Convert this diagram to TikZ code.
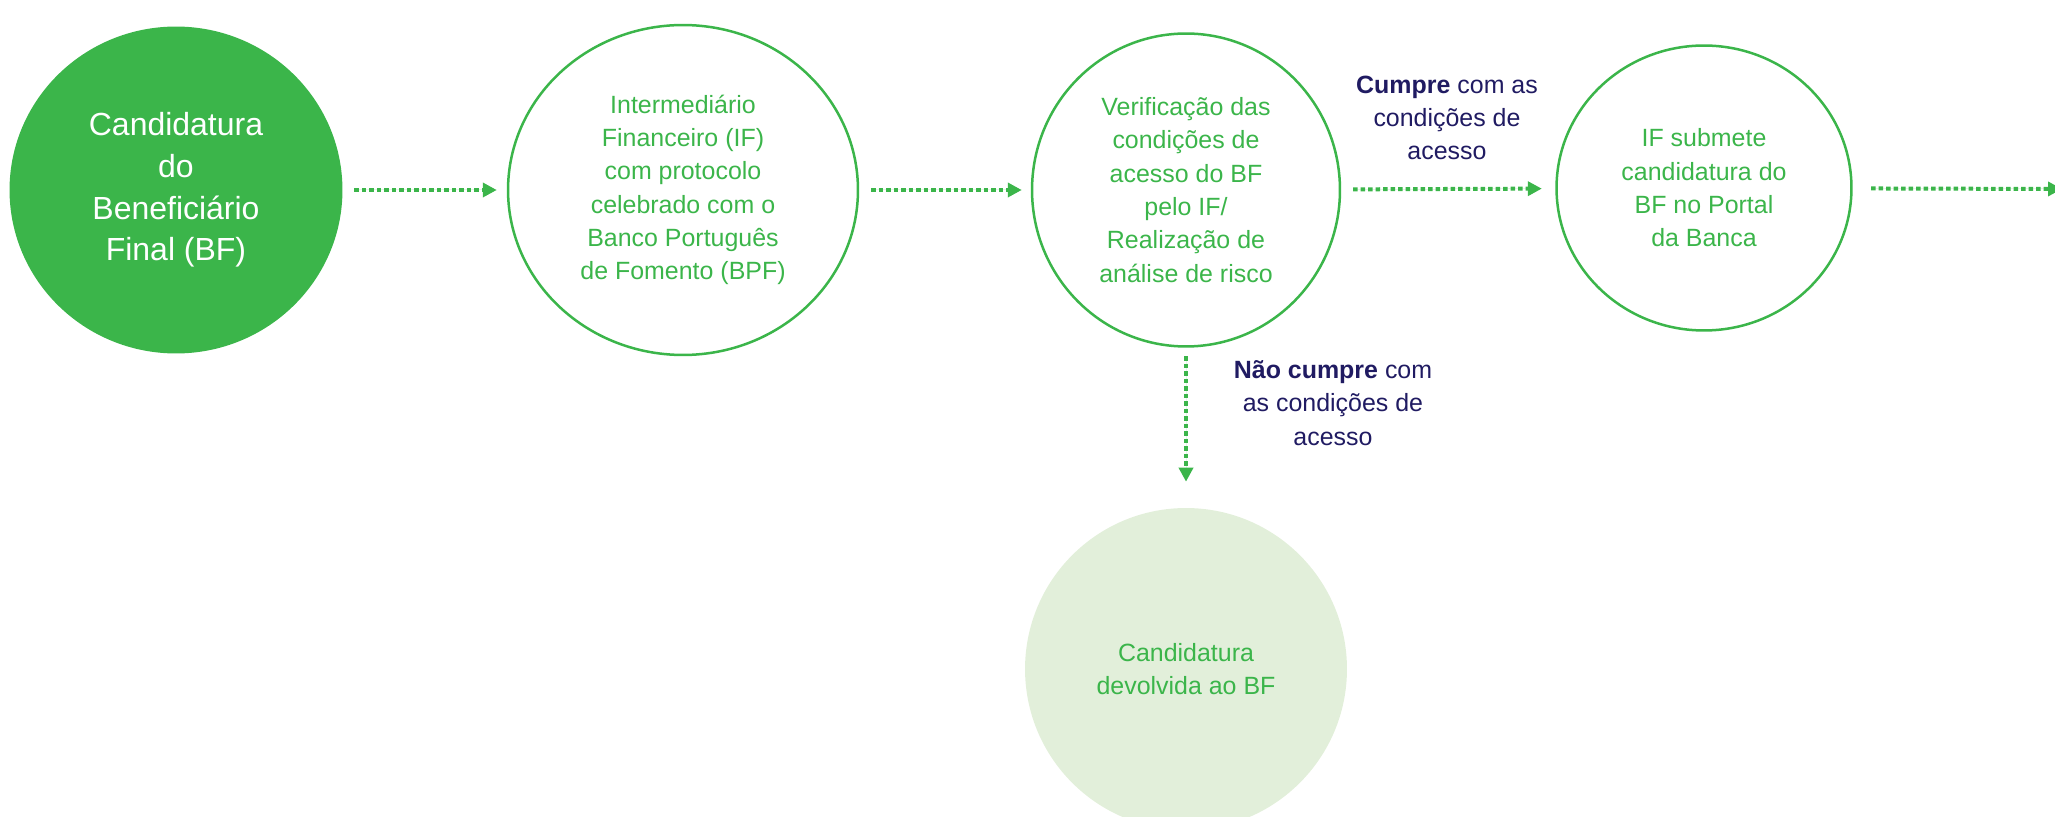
\documentclass[tikz,border=0pt]{standalone}
\usepackage{fontspec}
\setmainfont{Liberation Sans}
\usetikzlibrary{arrows.meta,shapes.geometric}
\definecolor{bpfgreen}{RGB}{59,181,74}
\definecolor{bpflight}{RGB}{226,239,218}
\definecolor{bpfnavy}{RGB}{32,27,98}

\begin{document}
\begin{tikzpicture}[x=0.02cm,y=-0.02cm,>={Triangle[length=0.28cm,width=0.28cm]},
	main node/.style={ellipse,draw=bpfgreen,line width=0.05cm,inner sep=0pt,align=center,text=bpfgreen},
	start node/.style={ellipse,fill=bpfgreen,inner sep=0pt,align=center,text=white,font=\fontsize{18.2}{23.7}\selectfont},
	end node/.style={ellipse,fill=bpflight,inner sep=0pt,align=center,text=bpfgreen},
	flow/.style={->,draw=bpfgreen,fill=bpfgreen,line width=0.08cm,dash pattern=on 0.09cm off 0.06cm},
	note/.style={text=bpfnavy,align=center}]
	\tikzstyle{every node}=[font=\fontsize{14.2}{18.95}\selectfont]
	\useasboundingbox (0,0) rectangle (2055,817);
	\draw
		(176,190)  node(a) [start node, minimum width=6.66cm, minimum height=6.54cm] {Candidatura\\do\\Beneficiário\\Final (BF)}
		(683,190)  node(b) [main node, minimum width=7cm, minimum height=6.6cm] {Intermediário\\Financeiro (IF)\\com protocolo\\celebrado com o\\Banco Português\\de Fomento (BPF)}
		(1186,190) node(c) [main node, minimum width=6.16cm, minimum height=6.26cm] {Verificação das\\condições de\\acesso do BF\\pelo IF/\\Realização de\\análise de risco}
		(1704,188) node(d) [main node, minimum width=5.9cm, minimum height=5.7cm] {IF submete\\candidatura do\\BF no Portal\\da Banca}
		(1186,669) node(e) [end node, minimum size=6.44cm] {Candidatura\\devolvida ao BF}
		(1447,118) node(f) [note] {\textbf{Cumpre} com as\\condições de\\acesso}
		(1333,403) node(g) [note] {\textbf{Não cumpre} com\\as condições de\\acesso};
	\coordinate (h) at (2062,189);
	\draw [flow, shorten <=0.23cm, shorten >=0.2cm](a) to (b);
	\draw [flow, shorten <=0.24cm, shorten >=0.18cm](b) to (c);
	\draw [flow, shorten <=0.24cm, shorten >=0.27cm](c) to (d);
	\draw [flow, shorten <=0.37cm](d) to (h);
	\draw [flow, shorten <=0.17cm, shorten >=0.52cm](c) to (e);
\end{tikzpicture}
\end{document}
